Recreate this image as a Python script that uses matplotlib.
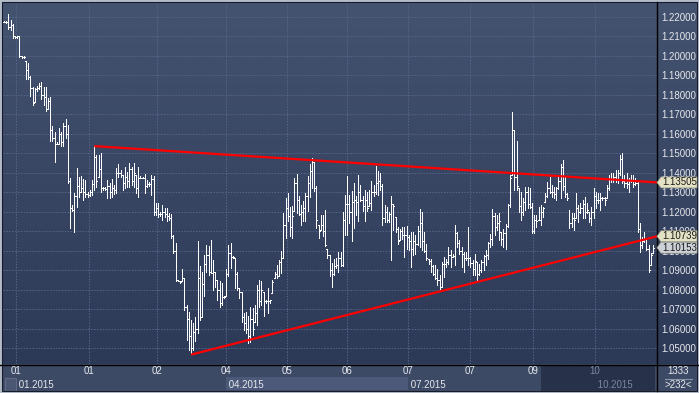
import numpy as np
import matplotlib
matplotlib.use("Agg")
import matplotlib.pyplot as plt
from matplotlib import transforms
from matplotlib.colors import LinearSegmentedColormap
from matplotlib.patches import Rectangle, Polygon

W, H = 699, 393

# daily bars (high / low / close), oldest first
highs = [
    1.2177, 1.2177, 1.2214, 1.2183, 1.2162, 1.2103, 1.2103, 1.2103, 1.2000, 1.2000,
    1.1974, 1.1966, 1.1897, 1.1841, 1.1838, 1.1846, 1.1863, 1.1866, 1.1841, 1.1841,
    1.1786, 1.1790, 1.1641, 1.1607, 1.1556, 1.1632, 1.1607, 1.1658, 1.1675, 1.1646,
    1.1372, 1.1235, 1.1295, 1.1423, 1.1380, 1.1384, 1.1367, 1.1363, 1.1303, 1.1312,
    1.1363, 1.1538, 1.1491, 1.1491, 1.1500, 1.1329, 1.1326, 1.1363, 1.1346, 1.1367,
    1.1338, 1.1423, 1.1445, 1.1415, 1.1389, 1.1428, 1.1406, 1.1452, 1.1432, 1.1449,
    1.1389, 1.1432, 1.1384, 1.1377, 1.1394, 1.1363, 1.1355, 1.1389, 1.1384, 1.1244,
    1.1244, 1.1201, 1.1235, 1.1218, 1.1218, 1.1192, 1.1187, 1.1081,
    1.1039, 1.0850, 1.0845, 1.0905, 1.0859, 1.0722, 1.0687, 1.0645, 1.0627, 1.0657,
    1.1048, 1.0922, 1.0888, 1.0979, 1.1031, 1.1022, 1.1053, 1.0953, 1.0893, 1.0850,
    1.0842, 1.0833, 1.0765, 1.0905, 1.1031, 1.1039, 1.0974, 1.0962, 1.0893, 1.0808,
    1.0790, 1.0682, 1.0687, 1.0665, 1.0713, 1.0705, 1.0722, 1.0825, 1.0850, 1.0842,
    1.0790, 1.0748, 1.0808, 1.0748, 1.0850, 1.0893, 1.0928, 1.0953, 1.0996,
    1.1193, 1.1271, 1.1296, 1.1224, 1.1231, 1.1374, 1.1396, 1.1279, 1.1236, 1.1254,
    1.1296, 1.1386, 1.1447, 1.1477, 1.1454, 1.1334, 1.1133, 1.1185, 1.1185, 1.1211,
    1.1008, 1.0979, 1.0936, 1.0957, 1.0962, 1.0991, 1.0991, 1.1197, 1.1288, 1.1386,
    1.1288, 1.1305, 1.1348, 1.1283, 1.1391, 1.1339, 1.1279, 1.1314, 1.1300, 1.1314,
    1.1356, 1.1339, 1.1434, 1.1408, 1.1399,
    1.1345, 1.1233, 1.1225, 1.1199, 1.1280, 1.1242, 1.1173, 1.1122, 1.1113, 1.1122,
    1.1122, 1.1125, 1.1079, 1.1096, 1.1096, 1.1079, 1.1125, 1.1216, 1.1199, 1.1096,
    1.1036, 1.0959, 1.0959, 1.0925, 1.0925, 1.0908, 1.0873, 1.0942, 1.0968, 1.0959,
    1.1019, 1.1002, 1.0985, 1.1131, 1.1096, 1.1053, 1.1019, 1.0993, 1.0993, 1.1122,
    1.0968, 1.0950, 1.0985, 1.0942, 1.0933, 1.0950, 1.0976, 1.1002, 1.1045, 1.1088,
    1.1216, 1.1191, 1.1182, 1.1191, 1.1096, 1.1113, 1.1139, 1.1242, 1.1388, 1.1714,
    1.1619,
    1.1563, 1.1320, 1.1303, 1.1268, 1.1328, 1.1328, 1.1320, 1.1243, 1.1183, 1.1183,
    1.1226, 1.1234, 1.1226, 1.1294, 1.1354, 1.1380, 1.1337, 1.1328, 1.1328, 1.1376,
    1.1443, 1.1465, 1.1380, 1.1294, 1.1209, 1.1191, 1.1191, 1.1294, 1.1234, 1.1243,
    1.1260, 1.1277, 1.1243, 1.1200, 1.1226, 1.1320, 1.1303, 1.1294, 1.1294, 1.1277,
    1.1277, 1.1337, 1.1388, 1.1400, 1.1397, 1.1414, 1.1414, 1.1491, 1.1500, 1.1388,
    1.1397, 1.1371, 1.1388, 1.1388, 1.1371, 1.1354, 1.1140, 1.1072, 1.1097, 1.1063,
    1.1029, 1.0986, 1.1029,
]
lows = [
    1.2172, 1.2171, 1.2137, 1.2132, 1.2094, 1.2091, 1.2091, 1.1995, 1.1991, 1.1991,
    1.1880, 1.1880, 1.1795, 1.1749, 1.1761, 1.1821, 1.1829, 1.1778, 1.1749, 1.1718,
    1.1726, 1.1564, 1.1564, 1.1453, 1.1547, 1.1547, 1.1538, 1.1538, 1.1581, 1.1350,
    1.1115, 1.1204, 1.1098, 1.1223, 1.1278, 1.1303, 1.1261, 1.1278, 1.1274, 1.1282,
    1.1286, 1.1312, 1.1329, 1.1380, 1.1303, 1.1312, 1.1312, 1.1269, 1.1269, 1.1278,
    1.1291, 1.1295, 1.1380, 1.1380, 1.1312, 1.1321, 1.1329, 1.1329, 1.1338, 1.1329,
    1.1295, 1.1278, 1.1372, 1.1372, 1.1295, 1.1326, 1.1333, 1.1286, 1.1184, 1.1184,
    1.1175, 1.1179, 1.1158, 1.1175, 1.1150, 1.1158, 1.1064, 1.0987,
    1.0842, 1.0842, 1.0833, 1.0842, 1.0696, 1.0542, 1.0490, 1.0473, 1.0490, 1.0538,
    1.0579, 1.0645, 1.0658, 1.0765, 1.0893, 1.0876, 1.0885, 1.0799, 1.0816, 1.0748,
    1.0713, 1.0722, 1.0756, 1.0765, 1.0868, 1.0910, 1.0962, 1.0808, 1.0799, 1.0756,
    1.0636, 1.0593, 1.0576, 1.0525, 1.0533, 1.0567, 1.0636, 1.0619, 1.0713, 1.0722,
    1.0662, 1.0730, 1.0679, 1.0730, 1.0782, 1.0859, 1.0859, 1.0868, 1.0885,
    1.0962, 1.1065, 1.1151, 1.1073, 1.1065, 1.1202, 1.1193, 1.1185, 1.1133, 1.1151,
    1.1151, 1.1202, 1.1276, 1.1322, 1.1305, 1.1116, 1.1065, 1.1108, 1.1077, 1.1025,
    1.0962, 1.0868, 1.0816, 1.0876, 1.0910, 1.0888, 1.0919, 1.0919, 1.1082, 1.1082,
    1.1142, 1.1048, 1.1116, 1.1185, 1.1151, 1.1254, 1.1202, 1.1151, 1.1202, 1.1228,
    1.1211, 1.1279, 1.1293, 1.1288, 1.1310,
    1.1131, 1.1148, 1.1148, 1.1148, 1.0954, 1.1105, 1.1096, 1.1036, 1.1053, 1.1062,
    1.0968, 1.1010, 1.1002, 1.0916, 1.0976, 1.0985, 1.1028, 1.1019, 1.1002, 1.0993,
    1.0950, 1.0933, 1.0890, 1.0873, 1.0856, 1.0822, 1.0805, 1.0813, 1.0865, 1.0916,
    1.0933, 1.0916, 1.0968, 1.0925, 1.1019, 1.0985, 1.0916, 1.0890, 1.0950, 1.0925,
    1.0916, 1.0873, 1.0873, 1.0847, 1.0873, 1.0890, 1.0899, 1.0925, 1.0959, 1.1019,
    1.1028, 1.1079, 1.1105, 1.1053, 1.1028, 1.1019, 1.1010, 1.1122, 1.1225, 1.1388,
    1.1311,
    1.1311, 1.1200, 1.1157, 1.1183, 1.1209, 1.1217, 1.1217, 1.1089, 1.1089, 1.1120,
    1.1157, 1.1131, 1.1174, 1.1251, 1.1277, 1.1294, 1.1277, 1.1268, 1.1260, 1.1315,
    1.1268, 1.1311, 1.1277, 1.1260, 1.1114, 1.1123, 1.1106, 1.1166, 1.1149, 1.1191,
    1.1166, 1.1166, 1.1191, 1.1149, 1.1131, 1.1166, 1.1217, 1.1243, 1.1209, 1.1260,
    1.1234, 1.1268, 1.1311, 1.1354, 1.1354, 1.1354, 1.1346, 1.1388, 1.1346, 1.1328,
    1.1320, 1.1303, 1.1354, 1.1328, 1.1337, 1.1097, 1.0995, 1.1012, 1.1046, 1.1003,
    1.0892, 1.0926, 1.0986,
]
closes = [
    1.2174, 1.2175, 1.2150, 1.2160, 1.2100, 1.2097, 1.2100, 1.2000, 1.1995, 1.1994,
    1.1930, 1.1890, 1.1838, 1.1760, 1.1830, 1.1835, 1.1845, 1.1800, 1.1790, 1.1730,
    1.1770, 1.1620, 1.1580, 1.1550, 1.1550, 1.1600, 1.1560, 1.1640, 1.1600, 1.1360,
    1.1220, 1.1210, 1.1280, 1.1330, 1.1300, 1.1320, 1.1300, 1.1290, 1.1285, 1.1300,
    1.1340, 1.1480, 1.1360, 1.1420, 1.1320, 1.1320, 1.1318, 1.1330, 1.1300, 1.1320,
    1.1310, 1.1400, 1.1400, 1.1390, 1.1350, 1.1380, 1.1360, 1.1420, 1.1360, 1.1400,
    1.1320, 1.1375, 1.1375, 1.1374, 1.1330, 1.1340, 1.1345, 1.1370, 1.1200, 1.1220,
    1.1190, 1.1190, 1.1200, 1.1190, 1.1180, 1.1170, 1.1075, 1.1000,
    1.0850, 1.0846, 1.0840, 1.0860, 1.0710, 1.0650, 1.0560, 1.0500, 1.0580, 1.0600,
    1.0860, 1.0660, 1.0830, 1.0930, 1.0980, 1.0890, 1.0886, 1.0890, 1.0850, 1.0800,
    1.0730, 1.0760, 1.0760, 1.0880, 1.0990, 1.0970, 1.0965, 1.0880, 1.0810, 1.0790,
    1.0660, 1.0630, 1.0600, 1.0560, 1.0650, 1.0600, 1.0680, 1.0800, 1.0740, 1.0800,
    1.0740, 1.0740, 1.0740, 1.0745, 1.0840, 1.0880, 1.0870, 1.0940, 1.0960,
    1.1130, 1.1220, 1.1180, 1.1120, 1.1180, 1.1350, 1.1260, 1.1190, 1.1200, 1.1220,
    1.1280, 1.1350, 1.1410, 1.1456, 1.1320, 1.1155, 1.1100, 1.1130, 1.1100, 1.1030,
    1.0980, 1.0900, 1.0880, 1.0920, 1.0925, 1.0960, 1.0925, 1.1155, 1.1240, 1.1240,
    1.1200, 1.1250, 1.1260, 1.1250, 1.1300, 1.1260, 1.1230, 1.1260, 1.1220, 1.1246,
    1.1300, 1.1300, 1.1350, 1.1360, 1.1330,
    1.1170, 1.1200, 1.1160, 1.1190, 1.1240, 1.1230, 1.1110, 1.1050, 1.1100, 1.1080,
    1.1080, 1.1070, 1.1050, 1.1007, 1.1050, 1.1032, 1.1100, 1.1144, 1.1050, 1.1000,
    1.0960, 1.0945, 1.0920, 1.0880, 1.0862, 1.0850, 1.0812, 1.0930, 1.0930, 1.0940,
    1.0978, 1.0970, 1.0975, 1.1093, 1.1040, 1.1000, 1.0983, 1.0960, 1.0960, 1.0960,
    1.0938, 1.0904, 1.0945, 1.0880, 1.0900, 1.0940, 1.0974, 1.0980, 1.1038, 1.1060,
    1.1180, 1.1120, 1.1140, 1.1150, 1.1060, 1.1090, 1.1125, 1.1235, 1.1375, 1.1620,
    1.1380,
    1.1330, 1.1230, 1.1200, 1.1250, 1.1300, 1.1240, 1.1225, 1.1100, 1.1160, 1.1150,
    1.1160, 1.1200, 1.1220, 1.1280, 1.1320, 1.1300, 1.1300, 1.1290, 1.1320, 1.1360,
    1.1430, 1.1330, 1.1290, 1.1270, 1.1140, 1.1170, 1.1160, 1.1220, 1.1200, 1.1220,
    1.1240, 1.1200, 1.1210, 1.1170, 1.1200, 1.1280, 1.1260, 1.1260, 1.1270, 1.1268,
    1.1260, 1.1320, 1.1370, 1.1370, 1.1380, 1.1370, 1.1400, 1.1470, 1.1360, 1.1350,
    1.1340, 1.1360, 1.1360, 1.1345, 1.1350, 1.1110, 1.1030, 1.1050, 1.1060, 1.1010,
    1.0900, 1.0980, 1.10153,
]
first_open = 1.2175

# trend lines: start bar, price there, price at the right edge
upper_trend = (41, 1.1537, 1.13505)
lower_trend = (85, 1.0466, 1.10739)

price_tags = [1.13505, 1.10739, 1.10153]
tag_colors = ["#E4E2C4", "#E4E2C4", "#CDD2D8"]

day_ticks = [5.5, 38.5, 69.5, 101, 128.5, 156, 183.5, 212, 240.5, 268.5]
day_labels = ["01", "01", "02", "04", "05", "06", "07", "07", "09", "10"]
month_labels = {0: "01.2015", 3: "04.2015", 6: "07.2015", 9: "10.2015"}

FONT = ["Liberation Sans", "DejaVu Sans"]
FS = 7.0
TXT = "#E6E8EC"
DIM = "#7C889E"

hi = np.array(highs)
lo = np.array(lows)
cl = np.clip(np.array(closes), lo, hi)
op = np.clip(np.array([first_open] + closes[:-1]), lo, hi)
idx = np.arange(len(hi))

fig = plt.figure(figsize=(W / 100, H / 100), dpi=100)

# background / frame drawn in pixel coordinates
bg = fig.add_axes([0, 0, 1, 1])
bg.set_xlim(0, W)
bg.set_ylim(H, 0)
bg.axis("off")
cmap = LinearSegmentedColormap.from_list("panel", ["#44536F", "#2C3957"])
bg.imshow(np.linspace(0, 1, 256)[:, None], extent=(0, W, 364, 0), cmap=cmap, aspect="auto")
bg.add_patch(Rectangle((0, 364), W, 29, fc="#3D4A66", ec="none"))
bg.add_patch(Rectangle((226, 377), 182, 13, fc="#4C5979", ec="none"))
bg.add_patch(Rectangle((5, 378), 11, 13, fc="#4A5672", ec="#5E6A86", lw=0.8))
bg.add_patch(Rectangle((541, 366), 114, 25, fc="#27314A", ec="none"))
bg.plot([0, W], [364.5, 364.5], color="black", lw=1.0)
bg.plot([657, 657], [2, 391], color="black", lw=1.0)
bg.plot([665, 692], [379, 379], color="#8A94A8", lw=0.8)
bg.text(678, 371.5, "1333", ha="center", va="center", fontsize=FS, color=TXT, family=FONT)
bg.text(678, 385.5, ">232<", ha="center", va="center", fontsize=FS, color=TXT, family=FONT)
bg.add_patch(Rectangle((0.75, 0.75), W - 1.5, H - 1.5, fill=False, ec="#B4BCCA", lw=1.5))
bg.add_patch(Rectangle((2.2, 2.2), W - 4.4, H - 4.4, fill=False, ec="#151B28", lw=0.8))

ax = fig.add_axes([3 / W, 29 / H, 654 / W, 361 / H])
ax.set_facecolor("none")
ax.set_xlim(-0.45, 296.8)
ax.set_ylim(1.0418, 1.2272)
for s in ax.spines.values():
    s.set_visible(False)

yt = np.round(np.arange(1.05, 1.2201, 0.01), 2)
ax.set_yticks(yt)
ax.set_yticklabels([f"{v:.5f}" for v in yt], family=FONT)
ax.yaxis.tick_right()
ax.tick_params(axis="y", length=0, pad=3, labelsize=FS, labelcolor=TXT)
ax.set_xticks(day_ticks)
ax.set_xticklabels([])
ax.tick_params(axis="x", length=0)
ax.grid(True, color="#56668A", lw=0.7, ls=(0, (1.5, 1.5)))
ax.set_axisbelow(True)

# OHLC bars
ax.vlines(idx, lo, hi, color="white", lw=0.5, antialiased=False, zorder=3)
ax.hlines(op, idx - 0.42, idx, color="white", lw=0.5, antialiased=False, zorder=3)
ax.hlines(cl, idx, idx + 0.42, color="white", lw=0.5, antialiased=False, zorder=3)

x_end = ax.get_xlim()[1]
for start, p0, p1 in (upper_trend, lower_trend):
    ax.plot([start, x_end], [p0, p1], color="#FF0000", lw=1.6, zorder=4,
            solid_capstyle="butt", clip_on=False)

# price tags on the right scale
tr = transforms.blended_transform_factory(bg.transData, ax.transData)
half = 5.5 * (1.2272 - 1.0418) / 361
for v, c in zip(price_tags, tag_colors):
    ax.add_patch(Polygon([(657, v), (661, v + half), (697, v + half), (697, v - half),
                          (661, v - half)], closed=True, fc=c, ec="#9A9A8A", lw=0.5,
                         transform=tr, clip_on=False, zorder=10))
    ax.text(679.5, v, f"{v:.5f}", transform=tr, ha="center", va="center", fontsize=FS,
            color="#1A1A1A", family=FONT, zorder=11, clip_on=False)

# date labels under the chart
tb = transforms.blended_transform_factory(ax.transData, bg.transData)
for i, (x, lab) in enumerate(zip(day_ticks, day_labels)):
    ax.text(x, 371.5, lab, transform=tb, ha="center", va="center", fontsize=FS,
            color=DIM if i == 9 else TXT, family=FONT, clip_on=False)
for i, lab in month_labels.items():
    ax.text(day_ticks[i], 384.5, " " + lab, transform=tb, ha="left", va="center",
            fontsize=FS, color=DIM if i == 9 else TXT, family=FONT, clip_on=False)

fig.savefig("out.png", dpi=100)
